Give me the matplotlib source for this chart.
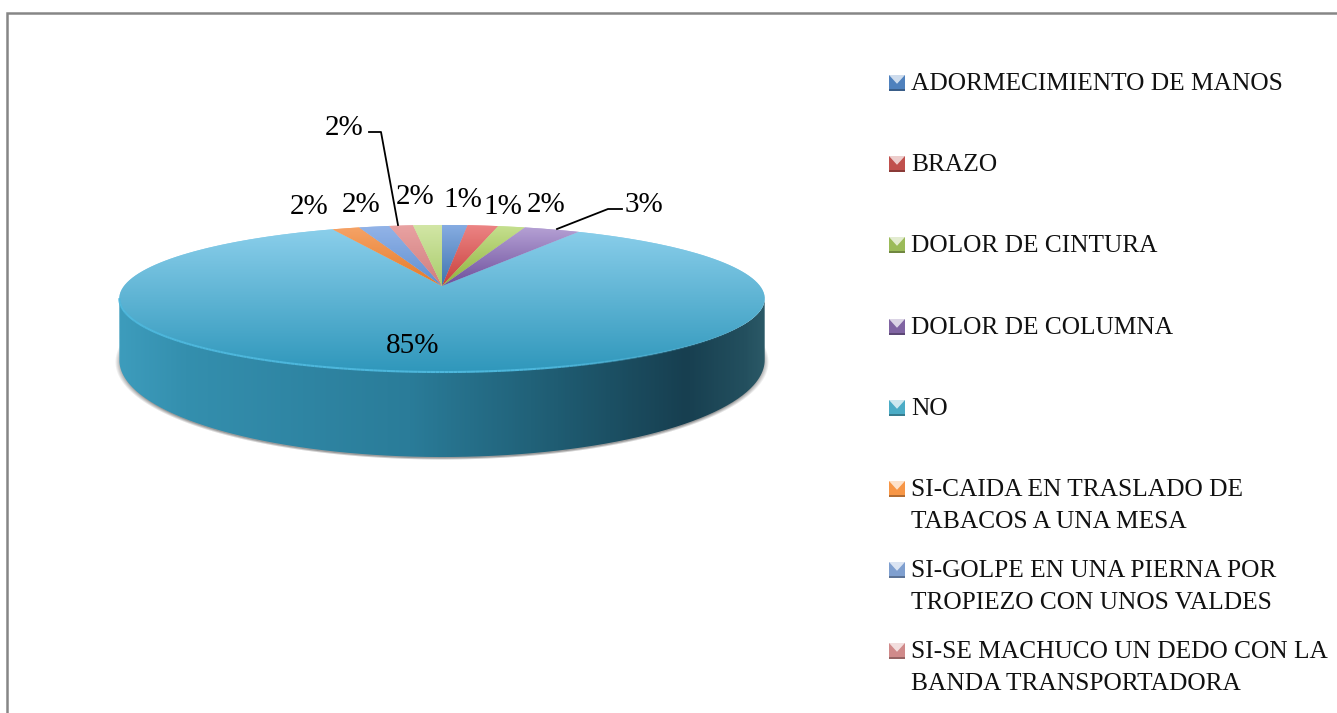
import numpy as np
import matplotlib
matplotlib.use("Agg")
import matplotlib.pyplot as plt
from matplotlib.path import Path
from matplotlib.patches import PathPatch, Polygon, Rectangle
from matplotlib.collections import LineCollection
from matplotlib.colors import LinearSegmentedColormap, to_rgb, to_rgba

categories = ["ADORMECIMIENTO DE MANOS", "BRAZO", "DOLOR DE CINTURA", "DOLOR DE COLUMNA", "NO",
              "SI-CAIDA EN TRASLADO DE\nTABACOS A UNA MESA",
              "SI-GOLPE EN UNA PIERNA POR\nTROPIEZO CON UNOS VALDES",
              "SI-SE MACHUCO UN DEDO CON LA\nBANDA TRANSPORTADORA", ""]
shares = [1.5, 1.8, 1.6, 3.3, 85.3, 1.6, 1.8, 1.4, 1.7]
shown = ["1%", "1%", "2%", "3%", "85%", "2%", "2%", "2%", "2%"]
top_cols = ["#86ace2", "#ec8484", "#c6e090", "#b7a3d6", "#8dd0ec", "#f6a468", "#93b4e8", "#e9a2a2", "#d2e6a6"]
low_cols = ["#3f74ad", "#c8403c", "#8fb33c", "#6d4f9c", "#2f97bb", "#e57a28", "#5f8fd0", "#cf7d7d", "#a9cc6b"]
leg_cols = ["#4f81bd", "#c0504d", "#9bbb59", "#8064a2", "#4bacc6", "#f79646", "#7f9fcf", "#d08a8a", "#b5cf80"]

FONT = "Liberation Serif"
W, H = 1337, 713
fig = plt.figure(figsize=(W / 100, H / 100), dpi=100, facecolor="white")
ax = fig.add_axes([0, 0, 1, 1])
ax.set_xlim(0, W)
ax.set_ylim(H, 0)
ax.axis("off")

ax.add_patch(Rectangle((7, 13), W + 20, H + 40, fc="white", ec="#868686", lw=1.8, zorder=0))

# perspective pie geometry
cx, ay = 442, 286
Sx, Sy, p = 318.0, 71.4, 0.17
ell_cy, ell_ry = 298.5, 73.5
base_cy, base_ry = 360.0, 97.0


def rim(theta):
    d = 1 + p * np.cos(theta)
    return cx + Sx * np.sin(theta) / d, ay - Sy * np.cos(theta) / d


def grad_v(patch, c0, c1, y0, y1, z):
    cmap = LinearSegmentedColormap.from_list("g", [c0, c1])
    g = np.linspace(0, 1, 256)[:, None]
    im = ax.imshow(g, cmap=cmap, extent=(100, 800, y1, y0), aspect="auto", zorder=z, interpolation="bilinear")
    im.set_clip_path(patch)


# shadow below the wall
gx, gy = np.meshgrid(np.arange(95, 790), np.arange(300, 480))
dist = np.sqrt(((gx + .5 - cx) / 327.0) ** 2 + ((gy + .5 - (base_cy + 2)) / (base_ry + 1)) ** 2)
rgba = np.zeros(gx.shape + (4,))
rgba[..., :3] = 0.45
rgba[..., 3] = np.clip((1.0 - dist) / 0.02, 0, 1) * 0.7
ax.imshow(rgba, extent=(95, 790, 480, 300), aspect="auto", zorder=1, interpolation="bilinear")

# side wall with a horizontal gradient
arc = np.linspace(np.pi * 0.5 - 0.17, np.pi * 1.5 + 0.17, 300)
xa, ya = rim(arc)
i_r, i_l = np.argmax(xa), np.argmin(xa)
xa, ya = xa[i_r:i_l + 1], ya[i_r:i_l + 1]
yb = base_cy + base_ry * (ya - ell_cy) / ell_ry
wall_v = np.r_[np.c_[xa, ya], np.c_[xa[::-1], yb[::-1]], [[xa[0], ya[0]]]]
wall = PathPatch(Path(wall_v), fc="none", ec="none", zorder=1)
ax.add_patch(wall)
wall_cmap = LinearSegmentedColormap.from_list(
    "w", [(0, "#3d9cbc"), (0.10, "#348fae"), (0.45, "#2a7c99"), (0.68, "#1f5c72"),
          (0.88, "#173f50"), (0.97, "#234f5e"), (1, "#2a5866")])
im = ax.imshow(np.linspace(0, 1, 400)[None, :], cmap=wall_cmap, extent=(xa.min(), xa.max(), 470, 280),
               aspect="auto", zorder=2, interpolation="bilinear")
im.set_clip_path(wall)

# top face
edges = np.radians(np.r_[0, np.cumsum(shares)] * 3.6)
for i in range(len(shares)):
    t = np.linspace(edges[i], edges[i + 1], 160)
    xs, ys = rim(t)
    verts = np.r_[[[cx, ay]], np.c_[xs, ys], [[cx, ay]]]
    poly = PathPatch(Path(verts), fc=top_cols[i], ec="none", zorder=3)
    ax.add_patch(poly)
    if shares[i] > 50:
        grad_v(poly, top_cols[i], low_cols[i], 225, 372, 3)
    else:
        grad_v(poly, top_cols[i], low_cols[i], 225, 286, 4)

# light bevel along the front of the rim, fading to the right
pts = np.c_[xa, ya]
segs = np.stack([pts[:-1], pts[1:]], axis=1)
fade = np.clip((740 - xa[:-1]) / 200, 0, 1)
cols = [to_rgba("#4db7dc", a) for a in fade]
ax.add_collection(LineCollection(segs, colors=cols, linewidths=1.5, zorder=5))

# data labels and leaders
lab_pos = [(463, 200), (503, 207), (546, 205), (644, 205), (413, 346), (309, 207), (361, 205), (344, 128), (415, 197)]
for s, (x, y) in zip(shown, lab_pos):
    ax.text(x, y, s, fontsize=21, family=FONT, ha="center", va="center", color="black", zorder=7)
ax.plot([369, 381, 398], [132, 132, 225], color="black", lw=1.3, zorder=6)
ax.plot([622, 608, 557], [209, 209, 229], color="black", lw=1.3, zorder=6)

# legend
leg_y = [83, 164, 245, 327, 408, 489, 570, 651]
m = 16
for i, y in enumerate(leg_y):
    x0 = 889
    y0 = y - m / 2
    c = np.array(to_rgb(leg_cols[i]))
    lite = c + (1 - c) * 0.72
    dark = c * 0.72
    ax.add_patch(Rectangle((x0, y0), m, m, fc=c, ec="none", zorder=5))
    ax.add_patch(Polygon([(x0, y0), (x0 + m, y0), (x0 + m / 2, y0 + m * 0.55)], fc=lite, ec="none", zorder=6))
    ax.add_patch(Rectangle((x0, y0 + m - 2), m, 2, fc=dark, ec="none", zorder=6))
    ax.text(911, y - 10, categories[i], fontsize=18.3, family=FONT, ha="left", va="top",
            color="#111111", linespacing=1.58, zorder=7)

fig.savefig("out.png", dpi=100)
